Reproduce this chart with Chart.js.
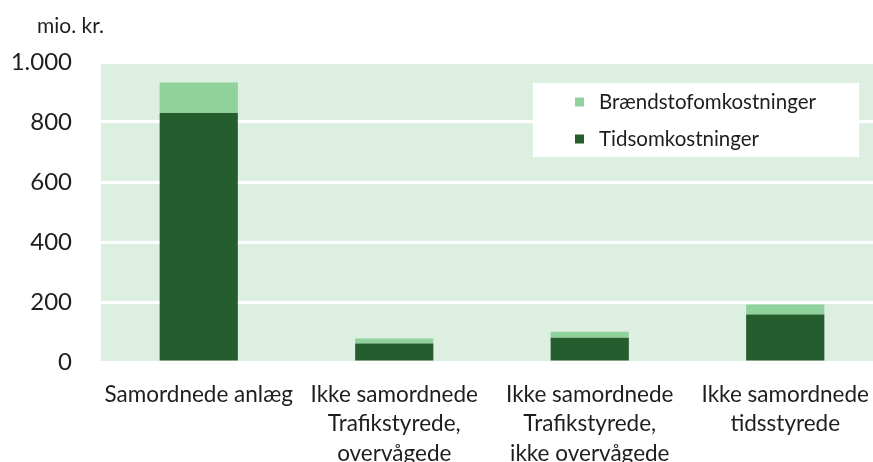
<!DOCTYPE html>
<html>
<head>
<meta charset="utf-8">
<script src="https://cdn.jsdelivr.net/npm/chart.js@4/dist/chart.umd.min.js"></script>
<style>
  html, body { margin: 0; padding: 0; background: #ffffff; overflow: hidden; }
  #wrap { width: 883px; height: 462px; }
  #c { display: block; width: 883px; height: 462px; }
</style>
</head>
<body>
<div id="wrap"><canvas id="c" width="883" height="462"></canvas></div>
<script>
const categories = [
  "Samordnede anlæg",
  ["Ikke samordnede", "Trafikstyrede,", "overvågede"],
  ["Ikke samordnede", "Trafikstyrede,", "ikke overvågede"],
  ["Ikke samordnede", "tidsstyrede"]
];
const seriesNames = ["Tidsomkostninger", "Brændstofomkostninger"];
const tidsomkostninger = [830, 62, 81, 158];
const braendstofomkostninger = [102, 16, 20, 34];
const yTicks = [0, 200, 400, 600, 800, 1000];
const unitLabel = "mio. kr.";

const DARK = "#265d2f";
const LIGHT = "#8fd29b";
const BG = "#dcefe0";
const FONT = "Lato, 'Open Sans', sans-serif";
const TEXT = "#1e1e1e";

function fmt(v) {
  return String(v).replace(/\B(?=(\d{3})+(?!\d))/g, ".");
}

const bgPlugin = {
  id: "bg",
  beforeDraw(chart) {
    const a = chart.chartArea, ctx = chart.ctx;
    ctx.save();
    ctx.fillStyle = BG;
    ctx.fillRect(a.left, a.top, a.right - a.left, a.bottom - a.top);
    ctx.restore();
  }
};

const unitPlugin = {
  id: "unit",
  afterDraw(chart) {
    const ctx = chart.ctx;
    ctx.save();
    ctx.fillStyle = TEXT;
    ctx.font = "21px " + FONT;
    ctx.textBaseline = "alphabetic";
    ctx.textAlign = "left";
    ctx.fillText(unitLabel, 37, 33);
    ctx.restore();
  }
};

const legendPlugin = {
  id: "boxLegend",
  afterDatasetsDraw(chart) {
    const ctx = chart.ctx;
    ctx.save();
    ctx.fillStyle = "#ffffff";
    ctx.fillRect(533, 83, 326, 74);
    const items = chart.data.datasets.slice().reverse();
    items.forEach((ds, i) => {
      const y = 102 + i * 37;
      ctx.fillStyle = ds.backgroundColor;
      ctx.fillRect(575, y - 4.5, 9, 9);
      ctx.fillStyle = TEXT;
      ctx.font = "20.5px " + FONT;
      ctx.textBaseline = "middle";
      ctx.textAlign = "left";
      ctx.fillText(ds.label, 599, y);
    });
    ctx.restore();
  }
};

new Chart(document.getElementById("c"), {
  type: "bar",
  data: {
    labels: categories,
    datasets: [
      { label: seriesNames[0], data: tidsomkostninger, backgroundColor: DARK },
      { label: seriesNames[1], data: braendstofomkostninger, backgroundColor: LIGHT }
    ]
  },
  options: {
    responsive: false,
    maintainAspectRatio: false,
    animation: false,
    events: [],
    layout: { padding: { top: 62, left: 0, right: 0, bottom: 0 } },
    datasets: { bar: { categoryPercentage: 1, barPercentage: 0.4, borderWidth: 0 } },
    plugins: { legend: { display: false }, title: { display: false }, tooltip: { enabled: false } },
    scales: {
      x: {
        stacked: true,
        grid: { display: false, drawTicks: false },
        border: { display: false },
        ticks: { color: TEXT, font: { family: FONT, size: 22.5, lineHeight: 1.31 }, padding: 18, maxRotation: 0, autoSkip: false },
        afterFit(s) { s.height = 100; s.paddingLeft = 0; s.paddingRight = 0; }
      },
      y: {
        stacked: true,
        min: 0, max: 1000,
        afterBuildTicks(s) { s.ticks = yTicks.map(v => ({ value: v })); },
        grid: { color: "#ffffff", lineWidth: 3, drawTicks: false },
        border: { display: false },
        ticks: { color: TEXT, font: { family: FONT, size: 24 }, padding: 29, callback: v => fmt(v) },
        afterFit(s) { s.width = 101; }
      }
    }
  },
  plugins: [bgPlugin, unitPlugin, legendPlugin]
});
</script>
</body>
</html>
